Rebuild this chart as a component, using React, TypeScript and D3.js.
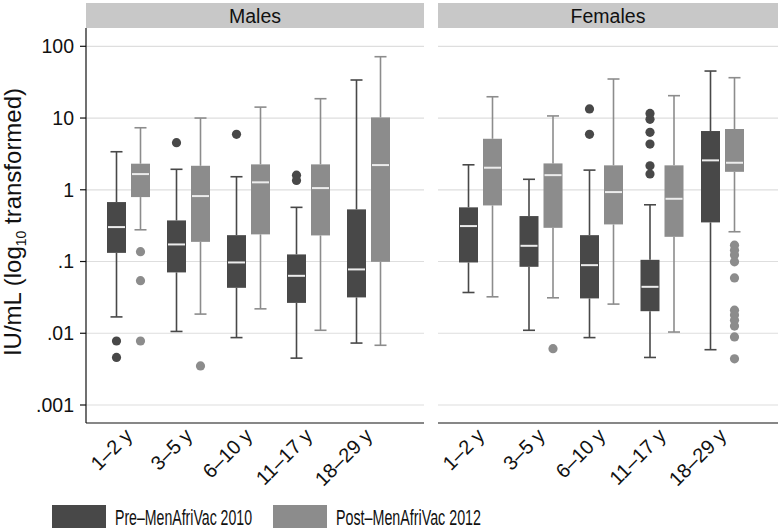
import React from "react";
import * as d3 from "d3";

const ageGroups = ["1–2 y", "3–5 y", "6–10 y", "11–17 y", "18–29 y"];
const panelNames = ["Males", "Females"];
const seriesNames = ["Pre–MenAfriVac 2010", "Post–MenAfriVac 2012"];
const yTickValues = [0.001, 0.01, 0.1, 1, 10, 100];
const yTickLabels = [".001", ".01", ".1", "1", "10", "100"];

// [lower whisker, q1, median, q3, upper whisker]
const malesPre = [
  [0.0169, 0.132, 0.302, 0.674, 3.39],
  [0.0106, 0.0705, 0.173, 0.374, 1.93],
  [0.0087, 0.043, 0.097, 0.233, 1.52],
  [0.0045, 0.0265, 0.0632, 0.1256, 0.569],
  [0.0073, 0.0316, 0.0776, 0.533, 33.9],
];
const malesPreOutliers = [[0.0078, 0.0046], [4.53], [5.93], [1.6, 1.35], []];

const malesPost = [
  [0.277, 0.791, 1.655, 2.31, 7.32],
  [0.0185, 0.188, 0.817, 2.16, 10.0],
  [0.0219, 0.239, 1.27, 2.26, 14.2],
  [0.011, 0.231, 1.056, 2.26, 18.6],
  [0.0068, 0.099, 2.21, 10.2, 71.6],
];
const malesPostOutliers = [[0.137, 0.054, 0.0078], [0.0035], [], [], []];

const femalesPre = [
  [0.037, 0.097, 0.312, 0.569, 2.23],
  [0.011, 0.0844, 0.1656, 0.43, 1.4],
  [0.0087, 0.0306, 0.089, 0.233, 1.88],
  [0.0046, 0.0203, 0.0444, 0.1056, 0.618],
  [0.0059, 0.351, 2.57, 6.59, 45.2],
];
const femalesPreOutliers = [[], [], [13.4, 5.93], [11.6, 9.6, 6.32, 4.34, 2.16, 1.66], []];

const femalesPost = [
  [0.0322, 0.605, 2.03, 5.14, 19.8],
  [0.0312, 0.295, 1.6, 2.33, 10.7],
  [0.0255, 0.329, 0.929, 2.19, 35.0],
  [0.0104, 0.221, 0.749, 2.19, 20.5],
  [0.26, 1.78, 2.38, 7.03, 36.5],
];
const femalesPostOutliers = [
  [], [0.0061], [], [],
  [0.169, 0.144, 0.123, 0.099, 0.059, 0.021, 0.0179, 0.0152, 0.0126, 0.0089, 0.0044],
];

const seriesColors = ["#484848", "#8c8c8c"];
const FONT = "'Liberation Sans', Arial, Helvetica, sans-serif";

const panels = [
  { name: panelNames[0], x0: 86, x1: 424, stats: [malesPre, malesPost], outs: [malesPreOutliers, malesPostOutliers] },
  { name: panelNames[1], x0: 438, x1: 778, stats: [femalesPre, femalesPost], outs: [femalesPreOutliers, femalesPostOutliers] },
];

export default function App() {
  const plotTop = 28;
  const plotBottom = 423;
  const y = d3.scaleLog().domain([0.001, 100]).range([405, 46.3]);
  const boxW = 19;
  const offset = 12;
  const capW = 12;

  return (
    <div style={{ position: "fixed", left: 0, top: 0 }}>
      <svg width={780} height={530} style={{ display: "block", background: "#fff" }}>
        {panels.map((p, pi) => {
          const x = d3.scalePoint<string>().domain(ageGroups).range([p.x0 + 42.5, p.x1 - 55.5]);
          return (
            <g key={p.name}>
              <rect x={p.x0} y={3} width={p.x1 - p.x0} height={25} fill="#c8c8c8" />
              <text x={(p.x0 + p.x1) / 2} y={22.5} textAnchor="middle" fontFamily={FONT} fontSize={19.5} fill="#111">
                {p.name}
              </text>
              {yTickValues.map((v) => (
                <line key={v} x1={p.x0} x2={p.x1} y1={y(v)} y2={y(v)} stroke="#dedede" strokeWidth={1.2} />
              ))}
              {p.stats.map((series, si) =>
                series.map((s, gi) => {
                  const cx = (x(ageGroups[gi]) as number) + (si === 0 ? -offset : offset);
                  const col = seriesColors[si];
                  const [lo, q1, med, q3, hi] = s;
                  return (
                    <g key={`${si}-${gi}`}>
                      <line x1={cx} x2={cx} y1={y(hi)} y2={y(q3)} stroke={col} strokeWidth={1.6} />
                      <line x1={cx} x2={cx} y1={y(q1)} y2={y(lo)} stroke={col} strokeWidth={1.6} />
                      <line x1={cx - capW / 2} x2={cx + capW / 2} y1={y(hi)} y2={y(hi)} stroke={col} strokeWidth={1.6} />
                      <line x1={cx - capW / 2} x2={cx + capW / 2} y1={y(lo)} y2={y(lo)} stroke={col} strokeWidth={1.6} />
                      <rect x={cx - boxW / 2} y={y(q3)} width={boxW} height={y(q1) - y(q3)} fill={col} />
                      <line x1={cx - boxW / 2 + 1} x2={cx + boxW / 2 - 1} y1={y(med)} y2={y(med)} stroke="#ececec" strokeWidth={2} />
                      {p.outs[si][gi].map((o, oi) => (
                        <circle key={oi} cx={cx} cy={y(o)} r={4.6} fill={col} />
                      ))}
                    </g>
                  );
                })
              )}
              <line x1={p.x0} x2={p.x1} y1={plotBottom} y2={plotBottom} stroke="#111" strokeWidth={1.2} />
              {ageGroups.map((g) => (
                <text
                  key={g}
                  transform={`translate(${(x(g) as number) + 5},${437}) rotate(-45)`}
                  textAnchor="end"
                  fontFamily={FONT}
                  fontSize={20}
                  fill="#111"
                >
                  {g}
                </text>
              ))}
              {pi === 0 && (
                <g>
                  <line x1={p.x0} x2={p.x0} y1={plotTop} y2={plotBottom} stroke="#111" strokeWidth={1.2} />
                  {yTickValues.map((v, i) => (
                    <g key={v}>
                      <line x1={p.x0 - 6} x2={p.x0} y1={y(v)} y2={y(v)} stroke="#111" strokeWidth={1.2} />
                      <text x={p.x0 - 12} y={y(v)} dy="0.35em" textAnchor="end" fontFamily={FONT} fontSize={19.5} fill="#111">
                        {yTickLabels[i]}
                      </text>
                    </g>
                  ))}
                </g>
              )}
            </g>
          );
        })}
        <text transform={`translate(21,${222}) rotate(-90)`} textAnchor="middle" fontFamily={FONT} fontSize={24} fill="#111">
          IU/mL (log
          <tspan fontSize={14} dy={5}>10</tspan>
          <tspan dy={-5}> transformed)</tspan>
        </text>
        {seriesNames.map((n, i) => {
          const lx = [52, 273][i];
          return (
            <g key={n}>
              <rect x={lx} y={505} width={54} height={23} fill={seriesColors[i]} />
              <text
                x={lx + 63}
                y={517}
                dy="0.36em"
                fontFamily="'Liberation Sans Narrow', 'Liberation Sans', Arial, sans-serif"
                fontSize={21.5}
                textLength={[137, 145][i]}
                lengthAdjust="spacingAndGlyphs"
                fill="#111"
              >
                {n}
              </text>
            </g>
          );
        })}
      </svg>
    </div>
  );
}
